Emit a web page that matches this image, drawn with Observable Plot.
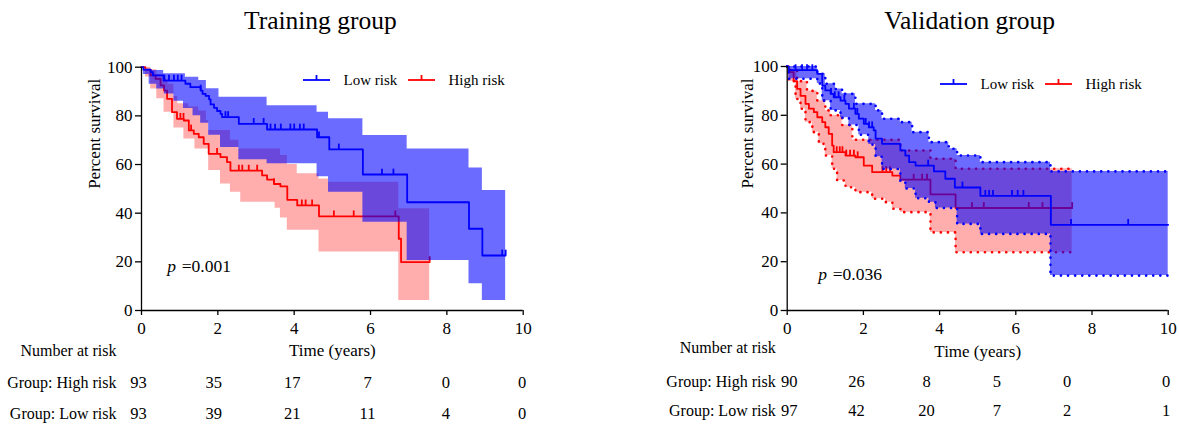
<!DOCTYPE html>
<html><head><meta charset="utf-8">
<script src="https://cdn.jsdelivr.net/npm/d3@7"></script>
<script src="https://cdn.jsdelivr.net/npm/@observablehq/plot@0.6"></script>
<style>
body{margin:0;background:#fff;}
#wrap{display:flex;width:1179px;height:427px;overflow:hidden;background:#fff;}
svg{flex:none;}
</style></head><body><div id="wrap"></div>
<script>
// ---------- DATA ----------
const xTicks = [0, 2, 4, 6, 8, 10];
const yTicks = [0, 20, 40, 60, 80, 100];
const riskTimes = [0, 2, 4, 6, 8, 10];
const groupLabels = ["Low risk", "High risk"];
const rowLabels = ["Group: High risk", "Group: Low risk"];

// Training group
const trainLowCurve = [[0,100],[0.05,99],[0.24,98],[0.3,96.6],[0.58,94.5],[1.15,93.2],[1.28,91.8],[1.55,90.4],[1.6,89],[1.68,88.2],[1.77,86.8],[1.81,84.7],[1.9,83.3],[1.98,82],[2.07,80.8],[2.11,79.5],[2.55,76.7],[3.29,74.4],[4.6,71.2],[4.92,66.2],[5.8,55.9],[6.96,44.5],[8.58,33.6],[8.93,22.6],[9.54,22.6]];
const trainLowUpper = [[0,100],[0.05,98.6],[0.58,97.3],[1.15,95.9],[1.5,94.5],[1.7,91.1],[2.03,87.7],[3.29,84.2],[4.6,81.5],[4.9,78.8],[5.8,71.9],[6.96,66.4],[8.58,58.6],[8.93,49.3],[9.54,49.3]];
const trainLowLower = [[0,100],[0.05,97],[0.2,93],[0.4,91],[0.6,89],[0.85,86],[1.1,83],[1.35,80],[1.55,77],[1.76,72],[2.07,67],[2.55,62],[3.29,60.3],[4.6,55],[4.9,48.6],[5.8,36.3],[6.96,20.5],[8.58,11],[8.93,4.1],[9.54,4.1]];
const trainLowCensor = [0.6,0.72,0.85,0.95,1.05,1.55,2.2,2.27,2.94,3.2,3.38,3.5,3.65,3.9,4.0,4.15,4.25,4.65,5.17,6.3,6.6,9.45,9.54];
const trainHighCurve = [[0,100],[0.1,99],[0.24,96.6],[0.37,95.2],[0.5,92.5],[0.59,90.4],[0.67,87],[0.8,81.5],[0.93,78.8],[1.11,78.1],[1.24,74],[1.37,72.6],[1.5,71.2],[1.63,68.5],[1.76,64.4],[2.07,63],[2.24,61],[2.33,57.5],[3.16,55.5],[3.29,53.8],[3.47,52],[3.64,51],[3.82,45.5],[4.08,43.2],[4.65,38.7],[6.74,29.5],[6.8,19.9],[7.55,19.9]];
const trainHighUpper = [[0,100],[0.24,99],[0.4,97],[0.59,95],[0.7,93],[0.85,88],[0.95,85],[1.24,83.6],[1.5,82],[1.7,78],[1.76,74],[2.33,70],[2.55,66.4],[3.64,63.7],[3.82,60],[4.08,56.2],[4.65,54.1],[4.9,52.7],[6.74,41.8],[7.55,41.8]];
const trainHighLower = [[0,100],[0.1,96],[0.24,91],[0.4,87],[0.59,81.5],[0.85,75],[1.11,70.5],[1.4,66.4],[1.76,57.5],[2.07,52],[2.33,48.6],[2.6,44.5],[3.5,42],[3.64,38],[3.82,33],[4.65,24],[6.74,4.1],[7.55,4.1]];
const trainHighCensor = [1.02,1.1,1.3,1.98,2.55,2.64,2.81,3.03,3.47,4.2,4.3,4.47,5.04,5.56,6.65,7.55];
const trainRiskHigh = [93, 35, 17, 7, 0, 0];
const trainRiskLow = [93, 39, 21, 11, 4, 0];

// Validation group
const valLowCurve = [[0,100],[0.04,98.5],[0.79,97],[0.92,92.2],[1.0,90.2],[1.14,88.8],[1.22,87.4],[1.4,86],[1.53,84.7],[1.62,82.7],[1.79,80.6],[1.88,78.6],[2.01,76.5],[2.14,75.1],[2.27,73.8],[2.32,70.4],[2.49,68.3],[2.97,65.6],[3.1,63.5],[3.2,60.8],[3.37,59.4],[3.85,57],[4.15,54],[4.4,50.4],[5.07,47],[6.92,35.1],[10,35.1]];
const valLowUpper = [[0,100],[0.79,97],[1.0,92.9],[1.27,90.8],[1.44,88.8],[1.79,84.7],[2.32,82],[2.49,78.6],[2.97,77.2],[3.28,73.1],[3.72,69],[4.24,66.3],[4.46,63.5],[5.07,60.8],[6.91,57],[10,57]];
const valLowLower = [[0,100],[0.04,95],[0.79,93],[0.92,86],[1.14,82],[1.4,79],[1.62,76],[1.88,72],[2.14,68],[2.32,63],[2.49,58],[2.97,53],[3.1,50],[3.37,46],[3.72,44.4],[3.89,42],[4.46,35.5],[5.07,31.4],[6.91,14.3],[10,14.3]];
const valLowCensor = [0.22,0.39,0.52,0.66,1.15,1.25,1.35,1.5,1.75,1.84,2.06,2.15,2.23,3.7,4.6,5.2,5.3,5.4,5.9,6.05,6.2,7.45,8.95];
const valHighCurve = [[0,100],[0.04,97.7],[0.17,94],[0.26,90.8],[0.35,88],[0.48,84.7],[0.57,82.7],[0.7,81.3],[0.79,79.2],[0.92,77.2],[1.0,75.1],[1.09,72.4],[1.18,67.6],[1.22,64.9],[1.53,63.5],[1.79,62.8],[2.01,59.4],[2.23,56.7],[2.76,55.3],[2.97,53.6],[3.76,47.6],[4.42,42],[7.48,42]];
const valHighUpper = [[0,100],[0.05,98.5],[0.26,94],[0.52,90],[0.79,86],[1.0,82],[1.14,80],[1.44,76],[1.71,70],[2.97,65.6],[3.76,62.2],[4.42,58.1],[7.48,58.1]];
const valHighLower = [[0,100],[0.04,94],[0.22,86.7],[0.35,82.7],[0.48,77.2],[0.66,73.1],[0.83,68.3],[1.0,63.5],[1.18,58.1],[1.31,53.3],[1.53,50.5],[1.79,48.5],[2.23,45.8],[2.58,44.4],[2.76,41.7],[2.97,40.3],[3.76,32],[4.42,23.9],[7.48,23.9]];
const valHighCensor = [1.3,1.38,1.45,1.55,1.65,1.75,1.85,2.5,2.6,2.7,3.32,3.54,3.67,4.85,5.16,6.34,6.7,7.48];
const valRiskHigh = [90, 26, 8, 5, 0, 0];
const valRiskLow = [97, 42, 20, 7, 2, 1];

// ---------- HELPERS ----------
const FONT = "'Liberation Serif','Times New Roman',serif";
const BLUE = "#0000ff", RED = "#ff0000";
function stepAt(arr, t) { let v = arr[0][1]; for (const [ti, vi] of arr) { if (ti <= t) v = vi; else break; } return v; }
function band(hi, lo) {
  const ts = [...new Set([...hi.map(d => d[0]), ...lo.map(d => d[0])])].sort((a, b) => a - b);
  return ts.map(t => ({t, hi: stepAt(hi, t), lo: stepAt(lo, t)}));
}
const txt = (s, o) => Plot.text([s], {text: d => d, frameAnchor: "top-left", lineAnchor: "middle", fontFamily: FONT, fill: "black", ...o});

function panel(d, L) {
  const groupMarks = (curve, up, lo, cens, color, op) => [
    Plot.areaY(band(up, lo), {x: "t", y1: "lo", y2: "hi", curve: "step-after", fill: color, fillOpacity: op}),
    ...(L.dotted ? [
      Plot.line(up, {x: p => p[0], y: p => p[1], curve: "step-after", stroke: color, strokeWidth: 2.6, strokeDasharray: "0.1,7", strokeLinecap: "round"}),
      Plot.line(lo, {x: p => p[0], y: p => p[1], curve: "step-after", stroke: color, strokeWidth: 2.6, strokeDasharray: "0.1,7", strokeLinecap: "round"})
    ] : []),
    Plot.line(curve, {x: p => p[0], y: p => p[1], curve: "step-after", stroke: color, strokeWidth: 1.8}),
    Plot.ruleX(cens, {x: c => c, y1: c => stepAt(curve, c), y2: c => stepAt(curve, c) + 2.2, stroke: color, strokeWidth: 1.8})
  ];
  const svg = Plot.plot({
    width: L.w, height: 427,
    marginLeft: L.ml, marginRight: L.mr, marginTop: L.mt, marginBottom: L.mb,
    x: {domain: [0, 10]}, y: {domain: [0, 100]},
    style: {fontFamily: FONT, fontSize: "17px", color: "black", background: "white", overflow: "visible"},
    marks: [
      ...groupMarks(d.highCurve, d.highUpper, d.highLower, d.highCensor, RED, 0.32),
      ...groupMarks(d.lowCurve, d.lowUpper, d.lowLower, d.lowCensor, BLUE, 0.58),
      Plot.ruleX([0], {stroke: "black", strokeWidth: 1.3}),
      Plot.ruleY([0], {stroke: "black", strokeWidth: 1.3}),
      Plot.axisX({ticks: xTicks, tickSize: 5, tickPadding: 6, label: null, fontSize: 17, fontFamily: FONT, strokeWidth: 1.3}),
      Plot.axisY({ticks: yTicks, tickSize: 6, tickPadding: 3, label: null, fontSize: 17, fontFamily: FONT, strokeWidth: 1.3}),
      // titles and axis labels
      txt(d.title, {frameAnchor: "top", dx: L.titleDx, dy: 20 - L.mt, fontSize: 25.5}),
      txt("Percent survival", {frameAnchor: "left", dx: L.ylabDx, rotate: -90, fontSize: 17}),
      txt("Time (years)", {frameAnchor: "bottom", dy: L.timeY - (427 - L.mb), fontSize: 17}),
      // p value
      txt("p", {dx: L.pX, dy: L.pY - L.mt, textAnchor: "start", lineAnchor: "bottom", fontStyle: "italic", fontSize: 17.5}),
      txt(d.pText, {dx: L.pX + 14.5, dy: L.pY - L.mt, textAnchor: "start", lineAnchor: "bottom", fontSize: 17.5}),
      // legend labels
      txt(groupLabels[0], {dx: L.legX + 40, dy: L.legY - L.mt, textAnchor: "start", fontSize: 15}),
      txt(groupLabels[1], {dx: L.legX + 145, dy: L.legY - L.mt, textAnchor: "start", fontSize: 15}),
      // number at risk table
      txt("Number at risk", {dx: L.rowRight, dy: L.rows[0] - L.mt, textAnchor: "end", fontSize: 16}),
      txt(rowLabels[0], {dx: L.rowRight, dy: L.rows[1] - L.mt, textAnchor: "end", fontSize: 16}),
      txt(rowLabels[1], {dx: L.rowRight, dy: L.rows[2] - L.mt, textAnchor: "end", fontSize: 16}),
      ...[d.riskHigh, d.riskLow].flatMap((row, r) => row.map((v, i) =>
        Plot.text([v], {x: [riskTimes[i]], text: [String(v)], frameAnchor: "top", lineAnchor: "middle",
          dx: L.colDx[i], dy: L.rows[r + 1] - L.mt, fontSize: 16.5, fontFamily: FONT, fill: "black"})))
    ]
  });
  // legend swatches (decoration, pixel space)
  const s = d3.select(svg);
  const sw = (x0, color) => {
    const X = L.ml + x0, Y = L.legY;
    s.append("line").attr("x1", X).attr("x2", X + 27).attr("y1", Y).attr("y2", Y).attr("stroke", color).attr("stroke-width", 1.8);
    s.append("line").attr("x1", X + 13.5).attr("x2", X + 13.5).attr("y1", Y).attr("y2", Y - 5).attr("stroke", color).attr("stroke-width", 1.8);
  };
  sw(L.legX, BLUE);
  sw(L.legX + 105, RED);
  return svg;
}

const wrap = document.getElementById("wrap");
wrap.appendChild(panel(
  {title: "Training group", pText: "=0.001",
   lowCurve: trainLowCurve, lowUpper: trainLowUpper, lowLower: trainLowLower, lowCensor: trainLowCensor,
   highCurve: trainHighCurve, highUpper: trainHighUpper, highLower: trainHighLower, highCensor: trainHighCensor,
   riskHigh: trainRiskHigh, riskLow: trainRiskLow},
  {w: 590, ml: 141, mr: 67.3, mt: 66.7, mb: 117, dotted: false, titleDx: -12, ylabDx: -46.5,
   timeY: 350, pX: 25.7, pY: 271.5, legX: 162, legY: 80, rowRight: -25, rows: [350, 382, 413], colDx: [-3, -4, -2, -3, -1, -1]}
));
wrap.appendChild(panel(
  {title: "Validation group", pText: "=0.036",
   lowCurve: valLowCurve, lowUpper: valLowUpper, lowLower: valLowLower, lowCensor: valLowCensor,
   highCurve: valHighCurve, highUpper: valHighUpper, highLower: valHighLower, highCensor: valHighCensor,
   riskHigh: valRiskHigh, riskLow: valRiskLow},
  {w: 589, ml: 196.7, mr: 11.3, mt: 66, mb: 117, dotted: true, titleDx: -8, ylabDx: -40,
   timeY: 351, pX: 31, pY: 279.5, legX: 153.3, legY: 84, rowRight: -11.5, rows: [347, 381, 410], colDx: [2, -7, -13, -19, -25, -2]}
));
</script></body></html>
